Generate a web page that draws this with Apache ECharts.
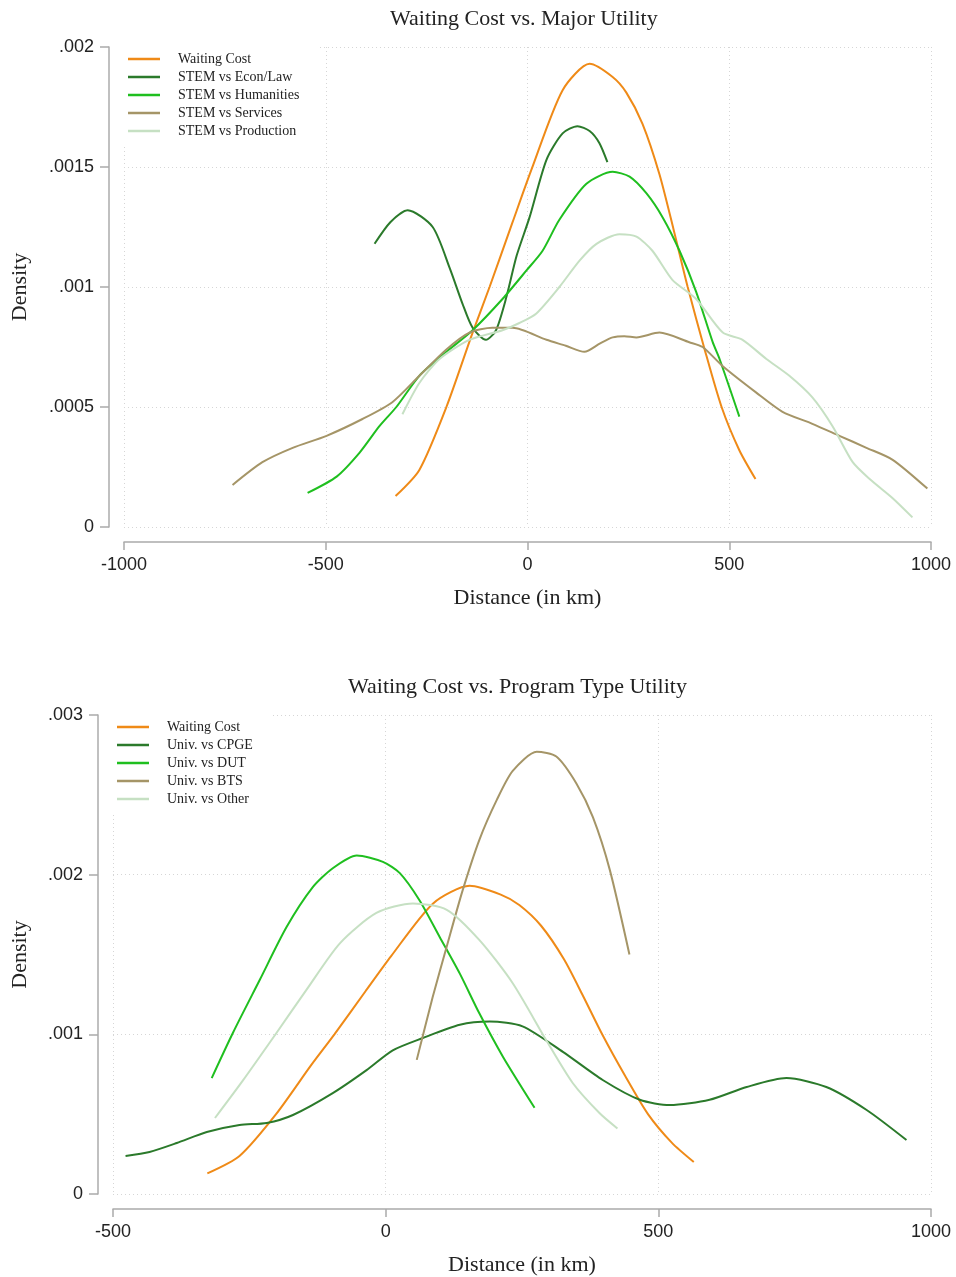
<!DOCTYPE html>
<html>
<head>
<meta charset="utf-8">
<script src="https://cdn.jsdelivr.net/npm/echarts@6/dist/echarts.min.js"></script>
<style>
  html, body { margin: 0; padding: 0; background: #fff; }
  #chart { width: 956px; height: 1277px; }
</style>
</head>
<body>
<div id="chart"></div>
<script>
// waiting cost density (same curve in both panels)
const waitX = [-327, -268, -201, -136, -94, -37, 10, 87, 154, 211, 245, 285, 327, 362, 397, 439, 481, 525, 565];
const waitY = [0.000129, 0.000238, 0.0005, 0.00081, 0.001, 0.00127, 0.00149, 0.00182, 0.00193, 0.001875, 0.00181, 0.00168, 0.00147, 0.00124, 0.001, 0.00074, 0.0005, 0.00032, 0.0002];

// top panel: major utility
const econX = [-379, -340, -297, -235, -193, -161, -136, -103, -78, -52, -27, 5, 47, 87, 124, 154, 178, 198];
const econY = [0.00118, 0.00127, 0.00132, 0.00125, 0.00108, 0.00093, 0.00083, 0.00078, 0.00082, 0.00096, 0.00113, 0.00129, 0.00153, 0.00164, 0.00167, 0.00165, 0.0016, 0.00152];

const humX = [-545, -473, -416, -367, -325, -268, -201, -136, -62, -2, 37, 79, 146, 211, 253, 295, 335, 377, 418, 459, 476, 525];
const humY = [0.000142, 0.00021, 0.00031, 0.00042, 0.0005, 0.00063, 0.00073, 0.00082, 0.00095, 0.00107, 0.00115, 0.00128, 0.00143, 0.00148, 0.00146, 0.00139, 0.00129, 0.00115, 0.00098, 0.00077, 0.0007, 0.00046];

const servX = [-731, -657, -582, -498, -409, -335, -268, -201, -144, -87, -37, 47, 95, 141, 180, 211, 240, 270, 327, 401, 434, 484, 567, 632, 706, 773, 840, 905, 991];
const servY = [0.000175, 0.00027, 0.00033, 0.00038, 0.00045, 0.00052, 0.00063, 0.00074, 0.00081, 0.00083, 0.00083, 0.00078, 0.000755, 0.00073, 0.000765, 0.00079, 0.000795, 0.00079, 0.00081, 0.00077, 0.00075, 0.00067, 0.00056, 0.00048, 0.00043, 0.00038, 0.00033, 0.00028, 0.00016];

const prodX = [-310, -268, -218, -144, -62, -20, 22, 79, 129, 171, 228, 270, 310, 359, 418, 484, 533, 592, 649, 706, 756, 806, 848, 905, 954];
const prodY = [0.00047, 0.0006, 0.0007, 0.00078, 0.00082, 0.00085, 0.00089, 0.001, 0.00111, 0.00118, 0.00122, 0.00121, 0.00115, 0.00103, 0.00095, 0.00081, 0.00078, 0.0007, 0.00063, 0.00054, 0.00042, 0.00027, 0.0002, 0.00012, 0.00004];

// bottom panel: program type utility
const cpgeX = [-477, -433, -383, -328, -268, -218, -170, -97, -35, 13, 68, 136, 191, 251, 325, 398, 466, 521, 594, 662, 735, 808, 882, 955];
const cpgeY = [0.000238, 0.000263, 0.000319, 0.000388, 0.000432, 0.000445, 0.000495, 0.000632, 0.000776, 0.0009, 0.000977, 0.00106, 0.00108, 0.00105, 0.00089, 0.000714, 0.00059, 0.000557, 0.00059, 0.00067, 0.000726, 0.00067, 0.000526, 0.000338];

const dutX = [-319, -280, -231, -182, -134, -97, -53, -5, 26, 62, 99, 136, 172, 215, 273];
const dutY = [0.000726, 0.00101, 0.00134, 0.00167, 0.00192, 0.00204, 0.00212, 0.00208, 0.00201, 0.00184, 0.00161, 0.00138, 0.00113, 0.00086, 0.00054];

const btsX = [57, 86, 112, 141, 172, 204, 233, 277, 313, 350, 380, 411, 447];
const btsY = [0.00084, 0.00123, 0.00155, 0.0019, 0.00222, 0.00247, 0.00265, 0.00277, 0.00274, 0.00257, 0.00236, 0.00203, 0.0015];

const otherX = [-313, -262, -200, -145, -84, -17, 50, 112, 172, 233, 295, 343, 392, 425];
const otherY = [0.000476, 0.00071, 0.00101, 0.00128, 0.00157, 0.00176, 0.00182, 0.00178, 0.00159, 0.00132, 0.00096, 0.000695, 0.000507, 0.00041];

const topNames = ['Waiting Cost', 'STEM vs Econ/Law', 'STEM vs Humanities', 'STEM vs Services', 'STEM vs Production'];
const botNames = ['Waiting Cost', 'Univ. vs CPGE', 'Univ. vs DUT', 'Univ. vs BTS', 'Univ. vs Other'];

const cOrange = '#ef8a17';
const cDark = '#2b7a2b';
const cBright = '#1fbf1f';
const cKhaki = '#a59567';
const cLight = '#c6e0c3';

const serif = 'Liberation Serif';
const sans = 'Liberation Sans';
const axisGrey = '#ababab';

function pairs(xs, ys) {
  return xs.map((x, i) => [x, ys[i]]);
}

function densityLabel(v) {
  if (v === 0) return '0';
  return String(+v.toPrecision(6)).replace(/^0/, '');
}

function makeX(idx, min, max) {
  return {
    type: 'value', gridIndex: idx, min: min, max: max, interval: 500,
    offset: 15,
    name: 'Distance (in km)', nameLocation: 'middle', nameGap: 45,
    nameTextStyle: { fontFamily: serif, fontSize: 22, color: '#222' },
    axisLine: { show: true, onZero: false, lineStyle: { color: axisGrey, width: 1.5 } },
    axisTick: { show: true, length: 8, lineStyle: { color: axisGrey, width: 1.5 } },
    axisLabel: { fontFamily: sans, fontSize: 18, color: '#222', margin: 14, formatter: v => String(v) },
    splitLine: { show: true, lineStyle: { color: '#d6d6d6', type: [1, 3] } }
  };
}

function makeY(idx, max, interval, gap) {
  return {
    type: 'value', gridIndex: idx, min: 0, max: max, interval: interval,
    offset: 15,
    name: 'Density', nameLocation: 'middle', nameGap: gap,
    nameTextStyle: { fontFamily: serif, fontSize: 22, color: '#222' },
    axisLine: { show: true, onZero: false, lineStyle: { color: axisGrey, width: 1.5 } },
    axisTick: { show: true, length: 9, lineStyle: { color: axisGrey, width: 1.5 } },
    axisLabel: { fontFamily: sans, fontSize: 18, color: '#222', margin: 15, formatter: densityLabel },
    splitLine: { show: true, lineStyle: { color: '#d6d6d6', type: [1, 3] } }
  };
}

function line(name, xs, ys, color, gi) {
  return {
    name: name, type: 'line', xAxisIndex: gi, yAxisIndex: gi,
    data: pairs(xs, ys), showSymbol: false, symbol: 'none',
    smooth: 0.25, lineStyle: { color: color, width: 2 }, itemStyle: { color: color },
    emphasis: { disabled: true }, z: 3
  };
}

function makeLegend(names, left, top) {
  return {
    data: names, orient: 'vertical', left: left, top: top,
    icon: 'rect', itemWidth: 32, itemHeight: 2.5, itemGap: 2,
    padding: [4, 20, 6, 10], backgroundColor: '#fff',
    selectedMode: false,
    textStyle: { fontFamily: serif, fontSize: 14, lineHeight: 16, color: '#222', padding: [0, 0, 0, 13] }
  };
}

const chart = echarts.init(document.getElementById('chart'));
chart.setOption({
  animation: false,
  backgroundColor: '#fff',
  title: [
    { text: 'Waiting Cost vs. Major Utility', left: 390, top: 8, padding: 0,
      textStyle: { fontFamily: serif, fontSize: 22, fontWeight: 'normal', color: '#222' } },
    { text: 'Waiting Cost vs. Program Type Utility', left: 348, top: 676, padding: 0,
      textStyle: { fontFamily: serif, fontSize: 22, fontWeight: 'normal', color: '#222' } }
  ],
  legend: [makeLegend(topNames, 118, 47), makeLegend(botNames, 107, 715)],
  grid: [
    { left: 124, top: 47, width: 807, height: 480 },
    { left: 113, top: 715, width: 818, height: 479 }
  ],
  xAxis: [makeX(0, -1000, 1000), makeX(1, -500, 1000)],
  yAxis: [makeY(0, 0.002, 0.0005, 78), makeY(1, 0.003, 0.001, 67)],
  series: [
    line(topNames[0], waitX, waitY, cOrange, 0),
    line(topNames[1], econX, econY, cDark, 0),
    line(topNames[2], humX, humY, cBright, 0),
    line(topNames[3], servX, servY, cKhaki, 0),
    line(topNames[4], prodX, prodY, cLight, 0),
    line(botNames[0], waitX, waitY, cOrange, 1),
    line(botNames[1], cpgeX, cpgeY, cDark, 1),
    line(botNames[2], dutX, dutY, cBright, 1),
    line(botNames[3], btsX, btsY, cKhaki, 1),
    line(botNames[4], otherX, otherY, cLight, 1)
  ]
});
</script>
</body>
</html>
